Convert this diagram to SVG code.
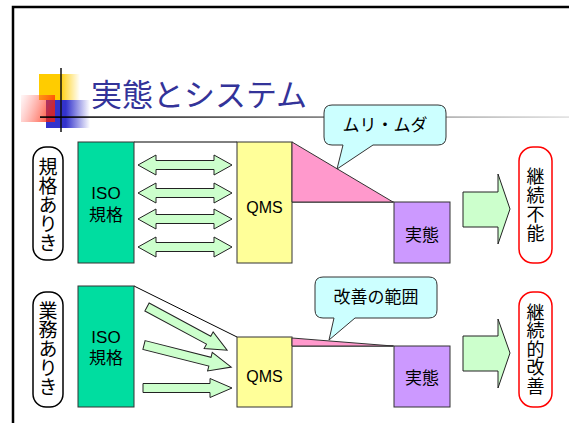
<svg xmlns="http://www.w3.org/2000/svg" width="569" height="423" viewBox="0 0 569 423">
<defs>
<linearGradient id="gY" x1="0" y1="0" x2="1" y2="0"><stop offset="0.5" stop-color="#FFCC00"/><stop offset="1" stop-color="#FFCC00" stop-opacity="0"/></linearGradient>
<linearGradient id="gB" x1="0" y1="0" x2="1" y2="0"><stop offset="0.45" stop-color="#3333CC"/><stop offset="1" stop-color="#3333CC" stop-opacity="0"/></linearGradient>
<linearGradient id="gR" x1="0" y1="0" x2="1" y2="0.3"><stop offset="0" stop-color="#FF6666" stop-opacity="0.05"/><stop offset="1" stop-color="#FF2200" stop-opacity="0.75"/></linearGradient>
<linearGradient id="gL" x1="0" y1="0" x2="1" y2="0"><stop offset="0" stop-color="#000000"/><stop offset="1" stop-color="#000000" stop-opacity="0.12"/></linearGradient>
<style>
.t{font-family:"Liberation Sans","Noto Sans CJK JP",sans-serif;fill:#000;text-anchor:middle;dominant-baseline:central}
.v{font-family:"Noto Sans CJK JP",sans-serif;fill:#000;text-anchor:middle;writing-mode:vertical-rl}
.box{stroke:#333;stroke-width:1}
.arr{fill:#CCFFCC;stroke:#222;stroke-width:1}
.call{fill:#CCFFFF;stroke:#333;stroke-width:1}
.pill{fill:#fff;stroke:#000;stroke-width:1.5}
.rpill{fill:#fff;stroke:#FF0000;stroke-width:1.5}
.ln{stroke:#000;stroke-width:1;fill:none}
</style>
</defs>
<rect width="569" height="423" fill="#fff"/>
<g id="frame">
<path d="M13,423 V7 H569" fill="none" stroke="#000" stroke-width="2.5"/>
</g>
<g id="title">
<rect x="39" y="74" width="41" height="26" fill="url(#gY)"/>
<rect x="46" y="100" width="44" height="28" fill="url(#gB)"/>
<rect x="21" y="95" width="34" height="27" fill="url(#gR)"/>
<line x1="61" y1="68" x2="61" y2="132" stroke="#111" stroke-width="1.5"/>
<rect x="40" y="116.3" width="529" height="1.6" fill="url(#gL)"/>
<text x="91" y="106" font-family="'Noto Sans CJK JP',sans-serif" font-size="31" fill="#333399">実態とシステム</text>
</g>
<g id="connectors">
<line class="ln" x1="134" y1="142" x2="237" y2="142"/>
<line class="ln" x1="292" y1="202" x2="394" y2="202"/>
<line class="ln" x1="134" y1="286" x2="237" y2="337"/>
<line class="ln" x1="292" y1="346" x2="394" y2="346"/>
</g>
<g id="top-row">
<g id="pill-top"><rect class="pill" x="33" y="147" width="30" height="113" rx="13"/><text class="v" x="48" y="205" font-size="19">規格ありき</text></g>
<g id="iso-top"><rect class="box" x="78" y="142" width="56" height="121" fill="#00DDA0"/><text class="t" x="106" y="193" font-size="17">ISO</text><text class="t" x="106" y="215" font-size="17">規格</text></g>
<g id="darrows">
<path class="arr" transform="translate(138,165)" d="M0,0 L18,-10 L18,-4.5 L76,-4.5 L76,-10 L94,0 L76,10 L76,4.5 L18,4.5 L18,10 Z"/>
<path class="arr" transform="translate(138,193)" d="M0,0 L18,-10 L18,-4.5 L76,-4.5 L76,-10 L94,0 L76,10 L76,4.5 L18,4.5 L18,10 Z"/>
<path class="arr" transform="translate(138,219)" d="M0,0 L18,-10 L18,-4.5 L76,-4.5 L76,-10 L94,0 L76,10 L76,4.5 L18,4.5 L18,10 Z"/>
<path class="arr" transform="translate(138,247)" d="M0,0 L18,-10 L18,-4.5 L76,-4.5 L76,-10 L94,0 L76,10 L76,4.5 L18,4.5 L18,10 Z"/>
</g>
<g id="qms-top"><rect class="box" x="237" y="142" width="55" height="121" fill="#FFFF99"/><text class="t" x="264.5" y="207" font-size="16">QMS</text></g>
<g id="gap-top"><path d="M292,142 L393,202 L292,202 Z" fill="#FF99CC" stroke="#333" stroke-width="1"/></g>
<g id="jittai-top"><rect class="box" x="394" y="202" width="56" height="61" fill="#CC99FF"/><text class="t" x="422" y="235" font-size="17">実態</text></g>
<g id="callout-top"><path class="call" d="M332,105 H438 Q446,105 446,113 V137 Q446,145 438,145 H373 L337,169 L343,145 H332 Q324,145 324,137 V113 Q324,105 332,105 Z"/><text class="t" x="385" y="125" font-size="17">ムリ・ムダ</text></g>
<g id="bigarrow-top"><path class="arr" d="M463,192 H498 V174 L510,209 L498,244 V227 H463 Z"/></g>
<g id="result-top"><rect class="rpill" x="519" y="147" width="33" height="116" rx="14"/><text class="v" x="535.5" y="205" font-size="18" letter-spacing="1">継続不能</text></g>
</g>
<g id="bottom-row">
<g id="pill-bottom"><rect class="pill" x="33" y="292" width="30" height="115" rx="13"/><text class="v" x="48" y="349" font-size="19">業務ありき</text></g>
<g id="iso-bottom"><rect class="box" x="78" y="286" width="56" height="121" fill="#00DDA0"/><text class="t" x="106" y="337" font-size="17">ISO</text><text class="t" x="106" y="358" font-size="17">規格</text></g>
<g id="sarrows">
<path class="arr" transform="translate(147,307) rotate(28.3)" d="M0,-4.5 L70,-4.5 L70,-9.5 L91,0 L70,9.5 L70,4.5 L0,4.5 Z"/>
<path class="arr" transform="translate(144,345) rotate(14.2)" d="M0,-4.5 L68,-4.5 L68,-9.5 L90,0 L68,9.5 L68,4.5 L0,4.5 Z"/>
<path class="arr" transform="translate(143,388)" d="M0,-4.5 L67,-4.5 L67,-9.5 L89,0 L67,9.5 L67,4.5 L0,4.5 Z"/>
</g>
<g id="qms-bottom"><rect class="box" x="237" y="337" width="55" height="70" fill="#FFFF99"/><text class="t" x="264.5" y="376" font-size="16">QMS</text></g>
<g id="gap-bottom"><path d="M292,338 L393,346 L292,346 Z" fill="#FF99CC" stroke="#333" stroke-width="1"/></g>
<g id="jittai-bottom"><rect class="box" x="394" y="346" width="56" height="61" fill="#CC99FF"/><text class="t" x="422" y="378" font-size="17">実態</text></g>
<g id="callout-bottom"><path class="call" d="M323,277 H429 Q437,277 437,285 V310 Q437,318 429,318 H355 L329,340 L334,318 H323 Q315,318 315,310 V285 Q315,277 323,277 Z"/><text class="t" x="376" y="297" font-size="17">改善の範囲</text></g>
<g id="bigarrow-bottom"><path class="arr" d="M463,336 H498 V319 L510,353 L498,388 V371 H463 Z"/></g>
<g id="result-bottom"><rect class="rpill" x="519" y="292" width="33" height="115" rx="14"/><text class="v" x="535.5" y="349" font-size="18" letter-spacing="0.5">継続的改善</text></g>
</g>
</svg>
